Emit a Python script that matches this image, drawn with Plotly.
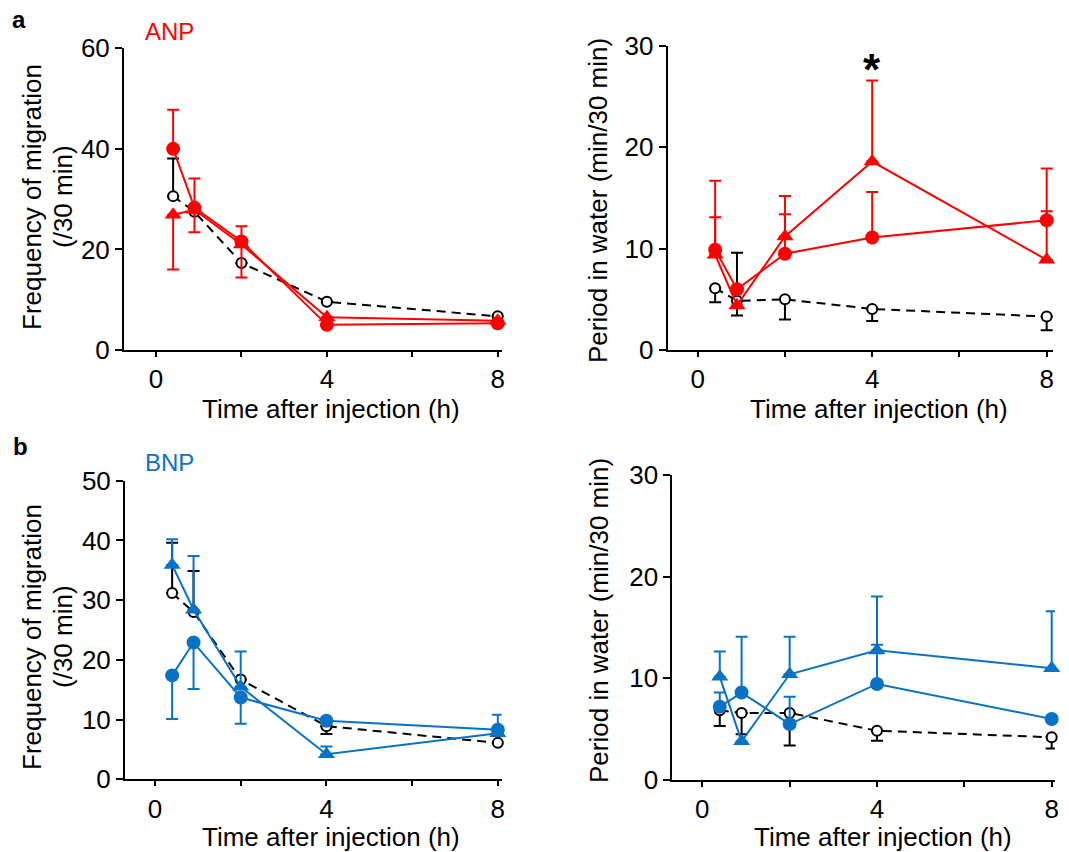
import plotly.graph_objects as go

# Sampling times after injection (h)
times = [0.4, 0.9, 2, 4, 8]
x_tickvals = [0, 2, 4, 6, 8]
x_ticktext = ["0", "", "4", "", "8"]

# ---- (a) ANP: frequency of migration (/30 min) ----
ctrl_freq_a = [30.6, 27.5, 17.3, 9.6, 6.7]
ctrl_freq_a_up = [7.5, 0, 0, 0, 0]
ctrl_freq_a_dn = [0, 0, 0, 0, 0]
anp_dot_freq = [40.0, 28.3, 21.6, 5.0, 5.3]
anp_dot_freq_up = [7.8, 5.8, 3.0, 0, 0]
anp_dot_freq_dn = [0, 0, 0, 0, 0]
anp_tri_freq = [26.9, 27.9, 21.0, 6.5, 5.8]
anp_tri_freq_up = [0, 0, 0, 0, 0]
anp_tri_freq_dn = [10.9, 4.5, 6.6, 0, 0]

# ---- (a) ANP: period in water (min/30 min) ----
ctrl_per_a = [6.1, 4.85, 5.0, 4.05, 3.3]
ctrl_per_a_up = [0, 4.75, 0, 0, 0]
ctrl_per_a_dn = [1.4, 1.45, 2.0, 1.2, 1.35]
anp_dot_per = [9.9, 6.0, 9.5, 11.1, 12.8]
anp_dot_per_up = [3.2, 0, 3.9, 4.5, 5.1]
anp_dot_per_dn = [0, 0, 0, 0, 0]
anp_tri_per = [9.4, 4.4, 11.2, 18.6, 8.9]
anp_tri_per_up = [7.3, 0, 4.0, 8.0, 4.8]
anp_tri_per_dn = [0, 0, 0, 0, 0]

# ---- (b) BNP: frequency of migration (/30 min) ----
ctrl_freq_b = [31.2, 28.0, 16.7, 8.9, 6.1]
ctrl_freq_b_up = [8.4, 6.9, 0, 0, 0]
ctrl_freq_b_dn = [0, 0, 0, 1.3, 0]
bnp_dot_freq = [17.4, 22.9, 13.7, 9.8, 8.3]
bnp_dot_freq_up = [0, 0, 0, 0, 0]
bnp_dot_freq_dn = [7.3, 7.8, 4.4, 0, 0]
bnp_tri_freq = [35.9, 28.4, 15.5, 4.2, 7.7]
bnp_tri_freq_up = [4.3, 9.0, 5.9, 1.3, 3.1]
bnp_tri_freq_dn = [0, 0, 0, 0, 0]

# ---- (b) BNP: period in water (min/30 min) ----
ctrl_per_b = [6.85, 6.6, 6.6, 4.85, 4.2]
ctrl_per_b_up = [0, 0, 0, 0, 0]
ctrl_per_b_dn = [1.55, 2.1, 3.2, 1.0, 1.1]
bnp_dot_per = [7.2, 8.6, 5.5, 9.45, 6.0]
bnp_dot_per_up = [1.4, 5.5, 2.7, 3.85, 0]
bnp_dot_per_dn = [0, 0, 0, 0, 0]
bnp_tri_per = [10.15, 3.8, 10.4, 12.75, 11.0]
bnp_tri_per_up = [2.5, 0, 3.7, 5.3, 5.6]
bnp_tri_per_dn = [0, 0, 0, 0, 0]

RED = "#ff0000"
BLUE = "#0a72c4"
FONT = "Liberation Sans, Arial, sans-serif"
W, H = 1069, 852


def px(x):
    return x / W


def py(y):
    return 1 - y / H


def err(up, dn, color):
    return dict(type="data", symmetric=False, array=up, arrayminus=dn,
                color=color, thickness=2, width=6)


def control(y, up, dn, xa, ya):
    return go.Scatter(
        x=times, y=y, xaxis=xa, yaxis=ya, mode="lines+markers",
        line=dict(color="black", width=2, dash="9px,6px"),
        marker=dict(symbol="circle", size=10, color="white",
                    line=dict(color="black", width=2)),
        error_y=err(up, dn, "black"), showlegend=False, cliponaxis=False)


def treated(y, up, dn, color, symbol, size, xa, ya):
    return go.Scatter(
        x=times, y=y, xaxis=xa, yaxis=ya, mode="lines+markers",
        line=dict(color=color, width=2),
        marker=dict(symbol=symbol, size=size, color=color),
        error_y=err(up, dn, color), showlegend=False, cliponaxis=False)


fig = go.Figure()
panels = [
    ("x", "y", ctrl_freq_a, ctrl_freq_a_up, ctrl_freq_a_dn,
     anp_dot_freq, anp_dot_freq_up, anp_dot_freq_dn,
     anp_tri_freq, anp_tri_freq_up, anp_tri_freq_dn, RED),
    ("x2", "y2", ctrl_per_a, ctrl_per_a_up, ctrl_per_a_dn,
     anp_dot_per, anp_dot_per_up, anp_dot_per_dn,
     anp_tri_per, anp_tri_per_up, anp_tri_per_dn, RED),
    ("x3", "y3", ctrl_freq_b, ctrl_freq_b_up, ctrl_freq_b_dn,
     bnp_dot_freq, bnp_dot_freq_up, bnp_dot_freq_dn,
     bnp_tri_freq, bnp_tri_freq_up, bnp_tri_freq_dn, BLUE),
    ("x4", "y4", ctrl_per_b, ctrl_per_b_up, ctrl_per_b_dn,
     bnp_dot_per, bnp_dot_per_up, bnp_dot_per_dn,
     bnp_tri_per, bnp_tri_per_up, bnp_tri_per_dn, BLUE),
]
for (xa, ya, c, cu, cd, d, du, dd, t, tu, td, col) in panels:
    fig.add_trace(control(c, cu, cd, xa, ya))
    fig.add_trace(treated(d, du, dd, col, "circle", 14, xa, ya))
    fig.add_trace(treated(t, tu, td, col, "triangle-up", 15, xa, ya))


def xaxis(domain, rng, anchor):
    return dict(domain=domain, range=rng, anchor=anchor, automargin=False,
                showline=True, linewidth=2, linecolor="black",
                ticks="outside", ticklen=5, tickwidth=2, tickcolor="black",
                tickvals=x_tickvals, ticktext=x_ticktext,
                tickfont=dict(family=FONT, size=26, color="black"),
                showgrid=False, zeroline=False)


def yaxis(domain, rng, dtick, anchor):
    return dict(domain=domain, range=rng, anchor=anchor, automargin=False,
                showline=True, linewidth=2, linecolor="black",
                ticks="outside", ticklen=7, tickwidth=2, tickcolor="black",
                tick0=0, dtick=dtick,
                tickfont=dict(family=FONT, size=26, color="black"),
                showgrid=False, zeroline=False)


fig.update_layout(
    width=W, height=H, autosize=False,
    margin=dict(l=0, r=0, t=0, b=0, autoexpand=False),
    paper_bgcolor="white", plot_bgcolor="white",
    font=dict(family=FONT, color="black"),
    showlegend=False,
    xaxis=xaxis([px(124), px(502)], [-0.75, 8.1], "y"),
    yaxis=yaxis([py(350), py(48.3)], [0, 60], 20, "x"),
    xaxis2=xaxis([px(667.7), px(1053)], [-0.688, 8.145], "y2"),
    yaxis2=yaxis([py(350), py(46)], [0, 30], 10, "x2"),
    xaxis3=xaxis([px(125), px(501.7)], [-0.70, 8.09], "y3"),
    yaxis3=yaxis([py(779.3), py(480.7)], [0, 50], 10, "x3"),
    xaxis4=xaxis([px(672.3), px(1055)], [-0.687, 8.076], "y4"),
    yaxis4=yaxis([py(780), py(475)], [0, 30], 10, "x4"),
)

TITLE = dict(family=FONT, size=26, color="black")
ann = []
# x-axis titles
for cx, cy in [(331, 409), (879, 409), (331, 837), (883, 837)]:
    ann.append(dict(text="Time after injection (h)", x=px(cx), y=py(cy),
                    xref="paper", yref="paper", showarrow=False,
                    xanchor="center", yanchor="middle", font=TITLE))
# y-axis titles, frequency panels (two lines)
for cy in [197, 637]:
    ann.append(dict(text="Frequency of migration", x=px(32), y=py(cy),
                    xref="paper", yref="paper", showarrow=False, textangle=-90,
                    xanchor="center", yanchor="middle", font=TITLE))
    ann.append(dict(text="(/30 min)", x=px(63), y=py(cy),
                    xref="paper", yref="paper", showarrow=False, textangle=-90,
                    xanchor="center", yanchor="middle", font=TITLE))
# y-axis titles, period panels
for cx, cy in [(598, 201), (599, 621)]:
    ann.append(dict(text="Period in water (min/30 min)", x=px(cx), y=py(cy),
                    xref="paper", yref="paper", showarrow=False, textangle=-90,
                    xanchor="center", yanchor="middle", font=TITLE))
# panel letters and peptide labels
ann.append(dict(text="<b>a</b>", x=px(19), y=py(19), xref="paper", yref="paper",
                showarrow=False, xanchor="center", yanchor="middle",
                font=dict(family=FONT, size=24, color="black")))
ann.append(dict(text="<b>b</b>", x=px(20), y=py(446), xref="paper", yref="paper",
                showarrow=False, xanchor="center", yanchor="middle",
                font=dict(family=FONT, size=24, color="black")))
ann.append(dict(text="ANP", x=px(169), y=py(32), xref="paper", yref="paper",
                showarrow=False, xanchor="center", yanchor="middle",
                font=dict(family=FONT, size=24, color=RED)))
ann.append(dict(text="BNP", x=px(169), y=py(462), xref="paper", yref="paper",
                showarrow=False, xanchor="center", yanchor="middle",
                font=dict(family=FONT, size=24, color=BLUE)))
# significance marker above the 4 h point
ann.append(dict(text="<b>*</b>", x=4, y=py(69), xref="x2", yref="paper",
                showarrow=False, xanchor="center", yanchor="middle",
                font=dict(family=FONT, size=44, color="black")))
fig.update_layout(annotations=ann)

fig.write_html("out.html")
